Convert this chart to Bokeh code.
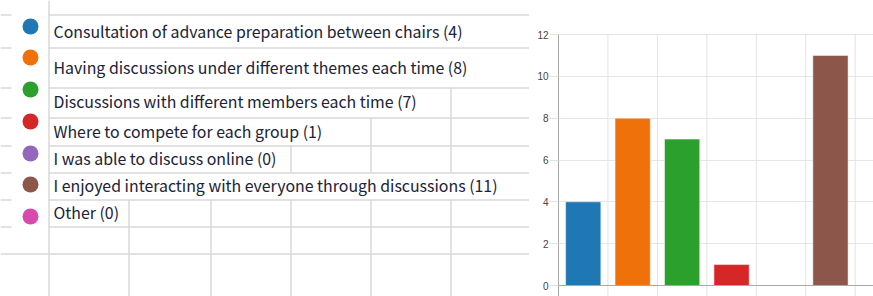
from bokeh.plotting import figure
from bokeh.layouts import row
from bokeh.models import Range1d, FixedTicker, Span, ColumnDataSource
from bokeh.core.properties import value
from bokeh.embed import file_html
from bokeh.resources import INLINE

# ---------------- data ----------------
labels = [
    "Consultation of advance preparation between chairs",
    "Having discussions under different themes each time",
    "Discussions with different members each time",
    "Where to compete for each group",
    "I was able to discuss online",
    "I enjoyed interacting with everyone through discussions",
    "Other",
]
counts = [4, 8, 7, 1, 0, 11, 0]
colors = ["#1f77b4", "#ef7109", "#2ca02c", "#d62728", "#9467bd", "#8c564b", "#d64bab"]
y_ticks = [0, 2, 4, 6, 8, 10, 12]
y_max = 12

# ---------------- layout constants (screen px) ----------------
SPLIT = 529          # where the chart's white area starts
W, H = 873, 296
legend_marker_y = [26, 57, 89, 121, 153, 184, 216]
legend_text_mid = [31, 66.5, 101, 130.5, 158.3, 185, 211.7]

# ---------------- left: sheet + legend ----------------
left = figure(width=SPLIT, height=H, output_backend="svg", toolbar_location=None,
              x_range=Range1d(0, SPLIT), y_range=Range1d(H, 0), min_border=0,
              x_axis_location=None, y_axis_location=None,
              outline_line_color=None, background_fill_color="white", border_fill_color="white")
left.grid.visible = False

grid_col = "#d9d9d9"
hx0, hx1, hy = [], [], []
for yy in [14, 47, 87, 117, 145, 172, 199, 226]:
    hx0 += [0, 48]; hx1 += [11, SPLIT]; hy += [yy, yy]
hx0.append(0); hx1.append(SPLIT); hy.append(253)
left.segment(x0=hx0, y0=[v + 0.5 for v in hy], x1=hx1, y1=[v + 0.5 for v in hy],
             line_color=grid_col, line_width=1.5)

vx, vy0, vy1 = [], [], []
vx += [48]; vy0 += [0]; vy1 += [H]
for xx in [128, 210]:
    vx.append(xx); vy0.append(199); vy1.append(H)
for xx, top in [(290, 145), (370, 117), (450, 87)]:
    vx += [xx, xx]; vy0 += [top, 199]; vy1 += [172, H]
left.segment(x0=[v + 0.5 for v in vx], y0=vy0, x1=[v + 0.5 for v in vx], y1=vy1,
             line_color=grid_col, line_width=1.5)

left.scatter(x=[30] * len(labels), y=legend_marker_y, size=16, color=colors, line_color=None)
left.text(x=[53] * len(labels), y=legend_text_mid,
          text=[f"{l} ({c})" for l, c in zip(labels, counts)],
          text_font=value("Noto Sans CJK JP"), text_font_size="15.9px",
          text_color="#202236", text_baseline="middle", text_align="left")

# ---------------- right: bar chart ----------------
FRAME_LEFT = 558
FRAME_TOP = 34
BASE = 285
px_per_unit = (BASE - FRAME_TOP) / float(y_max)
cat_px = 49.45
frame_w = W - FRAME_LEFT
y_start = -(H - BASE) / px_per_unit
y_end = y_max + FRAME_TOP / px_per_unit

chart = figure(width=W - SPLIT, height=H, output_backend="svg", toolbar_location=None,
               x_range=Range1d(0, frame_w / cat_px), y_range=Range1d(y_start, y_end),
               x_axis_location=None,
               min_border_left=FRAME_LEFT - SPLIT, min_border_right=0,
               min_border_top=0, min_border_bottom=0,
               outline_line_color=None, background_fill_color="white", border_fill_color="white")
chart.xgrid.visible = False
chart.ygrid.ticker = FixedTicker(ticks=y_ticks)
chart.ygrid.grid_line_color = "#e6e6e6"

# category boundary lines (vertical grid) limited to the plotting area
bounds = list(range(1, len(labels) + 1))
chart.segment(x0=bounds, y0=[y_start] * len(bounds), x1=bounds, y1=[y_max] * len(bounds),
              line_color="#e3e3e3", line_width=1)

ya = chart.yaxis[0]
ya.ticker = FixedTicker(ticks=y_ticks)
ya.bounds = (y_start, y_max)
ya.axis_line_color = "#a8a8a8"
ya.major_tick_out = 9
ya.major_tick_in = 0
ya.major_tick_line_color = "#e3e3e3"
ya.minor_tick_line_color = None
ya.major_label_standoff = 1
ya.major_label_text_font = "Liberation Sans"
ya.major_label_text_font_size = "10px"
ya.major_label_text_color = "#444444"

src = ColumnDataSource(dict(x=[i + 0.5 for i in range(len(labels))], top=counts, color=colors))
chart.vbar(x="x", top="top", bottom=0, width=0.713, fill_color="color", line_color="white",
           line_alpha=0.5, line_width=1, source=src)
chart.add_layout(Span(location=0, dimension="width", line_color="#a8a8a8", line_width=1))

layout = row(left, chart, spacing=0)
open("out.html", "w").write(file_html(layout, INLINE))
